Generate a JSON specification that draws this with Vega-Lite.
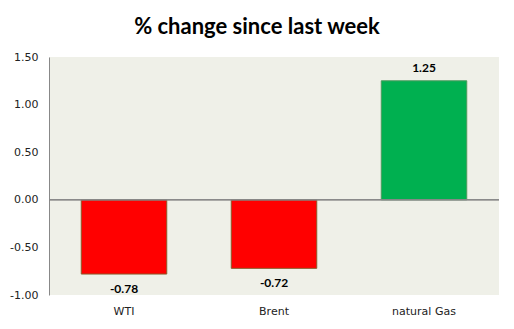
{
  "$schema": "https://vega.github.io/schema/vega-lite/v6.json",
  "width": 450,
  "height": 238,
  "autosize": "none",
  "padding": {"left": 49, "top": 57, "right": 15, "bottom": 34},
  "background": "white",
  "title": {
    "text": "% change since last week",
    "font": "Lato",
    "fontSize": 22,
    "fontWeight": "bold",
    "color": "#000000",
    "anchor": "middle",
    "frame": "group",
    "dx": -17,
    "offset": 12
  },
  "config": {
    "view": {"fill": "#EFF0E8", "stroke": null},
    "axis": {"labelFont": "DejaVu Sans", "labelFontSize": 11, "labelColor": "#222222", "grid": false, "title": null}
  },
  "data": {
    "values": [
      {"commodity": "WTI", "change": -0.78},
      {"commodity": "Brent", "change": -0.72},
      {"commodity": "natural Gas", "change": 1.25}
    ]
  },
  "transform": [
    {"calculate": "replace(format(datum.change, '.2f'), '\u2212', '-')", "as": "label"}
  ],
  "encoding": {
    "x": {
      "field": "commodity",
      "type": "nominal",
      "sort": null,
      "scale": {"paddingInner": 0.43, "paddingOuter": 0.215},
      "axis": {"labelAngle": 0, "domain": false, "ticks": false, "labelPadding": 10, "orient": "bottom"}
    },
    "y": {
      "field": "change",
      "type": "quantitative",
      "scale": {"domain": [-1, 1.5], "nice": false},
      "axis": {"values": [-1, -0.5, 0, 0.5, 1, 1.5], "format": ".2f", "labelExpr": "replace(datum.label, '\u2212', '-')", "domainColor": "#888888", "ticks": false, "labelPadding": 11}
    }
  },
  "layer": [
    {
      "mark": {"type": "bar", "strokeWidth": 1},
      "encoding": {
        "color": {
          "condition": {"test": "datum.change < 0", "value": "#FF0000"},
          "value": "#00B050"
        },
        "stroke": {
          "condition": {"test": "datum.change < 0", "value": "#8B5A2B"},
          "value": "#4E9A5E"
        }
      }
    },
    {
      "mark": {"type": "rule", "color": "#888888", "strokeWidth": 1},
      "encoding": {"y": {"datum": 0}, "x": {"value": 0}, "x2": {"value": 450}}
    },
    {
      "transform": [{"filter": "datum.change >= 0"}],
      "mark": {"type": "text", "font": "Lato", "fontSize": 12, "fontWeight": "bold", "color": "#000000", "baseline": "middle", "dy": -13},
      "encoding": {"text": {"field": "label", "type": "nominal"}}
    },
    {
      "transform": [{"filter": "datum.change < 0"}],
      "mark": {"type": "text", "font": "Lato", "fontSize": 12, "fontWeight": "bold", "color": "#000000", "baseline": "middle", "dy": 15},
      "encoding": {"text": {"field": "label", "type": "nominal"}}
    }
  ]
}
